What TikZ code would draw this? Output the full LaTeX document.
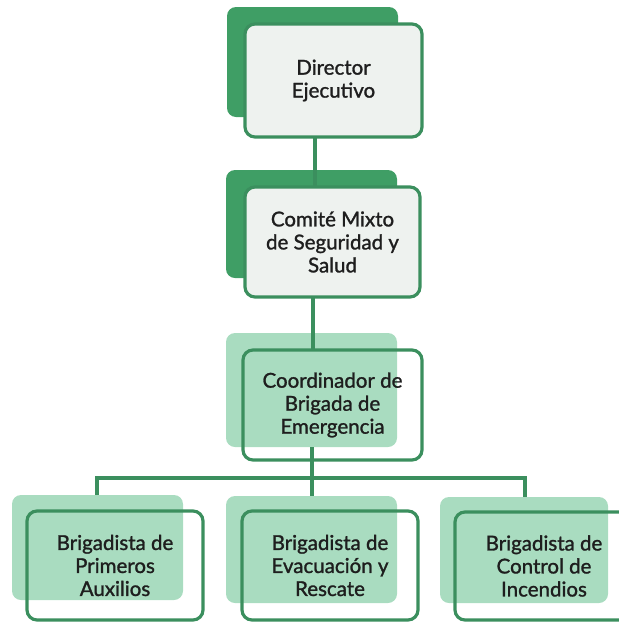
\documentclass[tikz,border=0pt]{standalone}
\usepackage{fontspec}
\setmainfont[FakeBold=1.3]{Lato}
\definecolor{dkshadow}{HTML}{3F9E65}
\definecolor{ltshadow}{HTML}{A9DCC0}
\definecolor{bordergreen}{HTML}{3B8F5E}
\definecolor{frontfill}{HTML}{EEF2EF}
\definecolor{textc}{HTML}{1E1E1E}
\begin{document}
\begin{tikzpicture}[x=1pt,y=-1pt,
  shadowbox/.style={rounded corners=9pt, inner sep=0pt, outer sep=0pt},
  frontbox/.style={draw=bordergreen, line width=3.2pt, rounded corners=10pt, inner sep=0pt, outer sep=0pt,
    align=center, text=textc, font=\fontsize{20.5}{23}\selectfont},
  conn/.style={draw=bordergreen, line width=3.2pt}]
\useasboundingbox (0,0) rectangle (619,622);
% shadows
\node[shadowbox, fill=dkshadow, minimum width=171pt, minimum height=110pt] (s1) at (312.5,62) {};
\node[shadowbox, fill=dkshadow, minimum width=171pt, minimum height=108pt] (s2) at (311.5,224) {};
\node[shadowbox, fill=ltshadow, minimum width=171pt, minimum height=114pt] (s3) at (311.5,390) {};
\node[shadowbox, fill=ltshadow, minimum width=171pt, minimum height=105pt] (s4) at (97.5,547.5) {};
\node[shadowbox, fill=ltshadow, minimum width=171pt, minimum height=107pt] (s5) at (311.5,549.5) {};
\node[shadowbox, fill=ltshadow, minimum width=168pt, minimum height=106pt] (s6) at (524,550) {};
% front boxes
\node[frontbox, fill=frontfill, minimum width=177pt, minimum height=113pt] (b1) at (333.5,80.5) {Director\\Ejecutivo};
\node[frontbox, fill=frontfill, minimum width=175pt, minimum height=110pt] (b2) at (332.5,242) {Comité Mixto\\de Seguridad y\\Salud};
\node[frontbox, minimum width=179pt, minimum height=110pt] (b3) at (332.5,405) {Coordinador de\\Brigada de\\Emergencia};
\node[frontbox, minimum width=176pt, minimum height=109pt] (b4) at (115,565.5) {Brigadista de\\Primeros\\Auxilios};
\node[frontbox, minimum width=176pt, minimum height=109pt] (b5) at (330,565.5) {Brigadista de\\Evacuación y\\Rescate};
\node[frontbox, minimum width=178pt, minimum height=108pt] (b6) at (544,566) {Brigadista de\\Control de\\Incendios};
% connector guides
\coordinate (xa) at (315,0);
\coordinate (xb) at (313,0);
\coordinate (xc) at (312,0);
\coordinate (bus) at (0,478);
\coordinate (xl) at (97,0);
\coordinate (xr) at (525,0);
% connectors
\draw[conn] (b1.south -| xa) -- (b2.north -| xa);
\draw[conn] (b2.south -| xb) -- (b3.north -| xb);
\draw[conn] (s3.south -| xc) -- (bus -| xc);
\draw[conn, line cap=rect] (bus -| xl) -- (bus -| xr);
\draw[conn] (bus -| xl) -- (s4.north -| xl);
\draw[conn] (bus -| xc) -- (s5.north -| xc);
\draw[conn] (bus -| xr) -- (s6.north -| xr);
\end{tikzpicture}
\end{document}
